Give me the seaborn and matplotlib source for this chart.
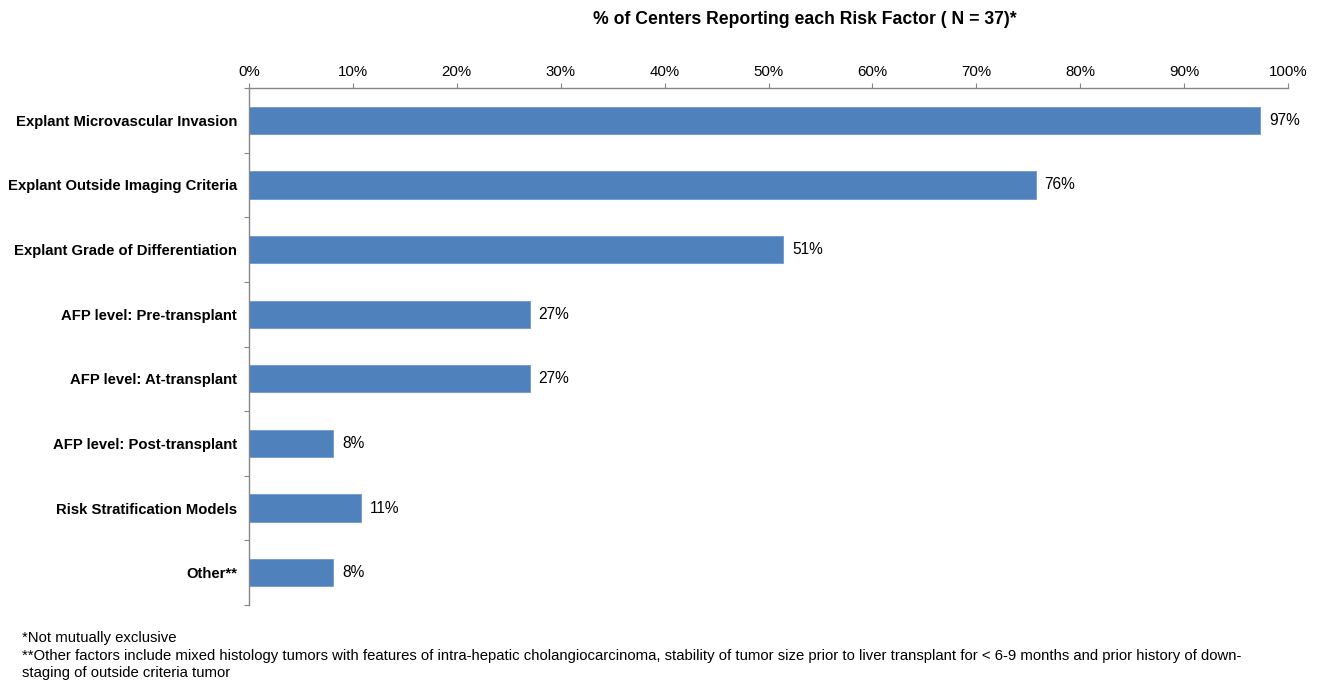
import matplotlib
matplotlib.use("Agg")
import matplotlib.pyplot as plt
import numpy as np
import pandas as pd
import seaborn as sns
from matplotlib.ticker import FixedLocator, PercentFormatter

# data
risk_factors = [
    "Explant Microvascular Invasion",
    "Explant Outside Imaging Criteria",
    "Explant Grade of Differentiation",
    "AFP level: Pre-transplant",
    "AFP level: At-transplant",
    "AFP level: Post-transplant",
    "Risk Stratification Models",
    "Other**",
]
pct_centers = [97.3, 75.7, 51.4, 27.0, 27.0, 8.1, 10.8, 8.1]
x_ticks = [0, 10, 20, 30, 40, 50, 60, 70, 80, 90, 100]

title = "% of Centers Reporting each Risk Factor ( N = 37)*"
footnotes = (
    "*Not mutually exclusive\n"
    "**Other factors include mixed histology tumors with features of intra-hepatic "
    "cholangiocarcinoma, stability of tumor size prior to liver transplant for < 6-9 months "
    "and prior history of down-\nstaging of outside criteria tumor"
)

sns.set_style("white")
plt.rcParams["font.family"] = ["Liberation Sans", "DejaVu Sans"]
plt.rcParams["text.color"] = "black"
plt.rcParams["xtick.color"] = "black"
plt.rcParams["ytick.color"] = "black"

BAR = "#4f81bd"
AXIS = "#868686"

df = pd.DataFrame({"factor": risk_factors, "pct": pct_centers})

fig = plt.figure(figsize=(13.21, 6.84), dpi=100)
ax = fig.add_axes([249 / 1321, 1 - 605 / 684, (1288 - 249) / 1321, (605 - 88) / 684])

sns.barplot(data=df, x="pct", y="factor", orient="h", color=BAR, saturation=1,
            width=0.42, edgecolor="#6f98cc", linewidth=0.6, ax=ax)

ax.set_xlim(0, 100)
ax.set_ylim(len(risk_factors) - 0.5, -0.5)
ax.xaxis.tick_top()
ax.set_xticks(x_ticks)
ax.xaxis.set_major_formatter(PercentFormatter(decimals=0))
ax.tick_params(axis="x", top=True, direction="out", length=3.5, color=AXIS,
               labelcolor="black", labelsize=10.8, pad=3)

# category labels without ticks, boundary ticks as minor
ax.yaxis.set_minor_locator(FixedLocator(np.arange(-0.5, len(risk_factors), 1.0)))
ax.tick_params(axis="y", which="major", left=True, length=0, labelsize=10.7,
               labelcolor="black", pad=8.5)
ax.tick_params(axis="y", which="minor", left=True, direction="out", length=3.5,
               width=0.8, color=AXIS)
for lab in ax.get_yticklabels():
    lab.set_fontweight("bold")

for side in ("right", "bottom"):
    ax.spines[side].set_visible(False)
for side in ("top", "left"):
    ax.spines[side].set_color(AXIS)
    ax.spines[side].set_linewidth(1.0)

ax.set_xlabel("")
ax.set_ylabel("")

for i, v in enumerate(pct_centers):
    ax.text(v + 0.85, i, f"{round(v)}%", va="center", ha="left", fontsize=11.2)

fig.text(0.609, 1 - 19 / 684, title, ha="center", va="center",
         fontsize=12.7, fontweight="bold")
fig.text(22 / 1321, 1 - 631 / 684, footnotes, ha="left", va="top",
         fontsize=10.7, linespacing=1.33)

fig.savefig("out.png", dpi=100)
